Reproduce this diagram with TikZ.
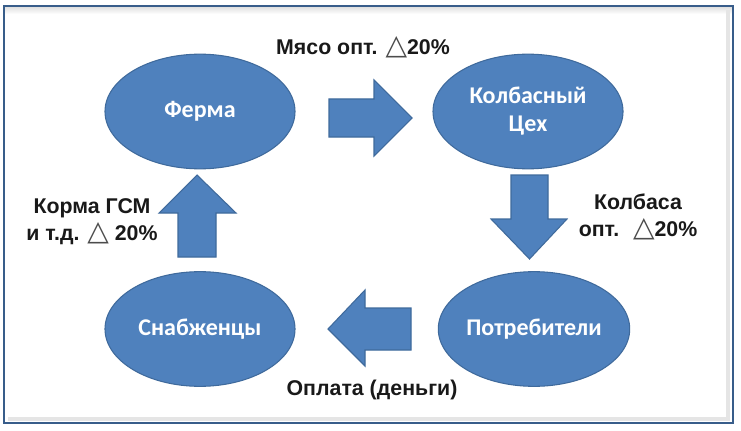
\documentclass[tikz,border=0pt]{standalone}
\usepackage{fontspec}
\setmainfont{Liberation Sans}
\newfontfamily\carl{Carlito}
\newfontfamily\dvs{DejaVu Sans}
\usetikzlibrary{shapes.geometric}
\definecolor{fillblue}{HTML}{4F81BD}
\definecolor{edgeblue}{HTML}{3F6A9C}
\definecolor{frameblue}{HTML}{385D8A}
\newcommand{\tri}{{\dvs\mdseries\fontsize{21}{20}\selectfont\color{black!70}△}}
\begin{document}
\begin{tikzpicture}[x=0.75pt,y=-0.75pt,
  state/.style={ellipse,draw=edgeblue,line width=0.8pt,fill=fillblue,
    minimum width=142.5pt,minimum height=86pt,inner sep=0pt,text=white,
    font=\carl\bfseries\fontsize{18}{21}\selectfont,align=center},
  lbl/.style={font=\bfseries\fontsize{16}{20}\selectfont,align=center,text=black!90},
  blk/.style={fill=fillblue,draw=edgeblue,line width=0.8pt,line join=miter}]
\useasboundingbox (0,0) rectangle (741,431);
\fill[white] (0,0) rectangle (741,431);
% frame with inner shadow
\shade[top color=black!12,bottom color=white] (5,7) rectangle (732,14);
\draw[black!10,line width=3pt] (728,10) -- (728,419) -- (8,419);
\draw[frameblue,line width=1.6pt] (4,6) rectangle (733,423);

% states
\node[state] (ferma) at (200,111.5) {Ферма};
\node[state] (ceh) at (528,111.5) {Колбасный\\Цех};
\node[state] (snab) at (200,329) {Снабженцы};
\node[state] (potr) at (534,329) {Потребители};

% block arrows
\draw[blk] (329,99) -- (374,99) -- (374,80) -- (412,118) -- (374,156) -- (374,137) -- (329,137) -- cycle;
\draw[blk] (511,175) -- (548,175) -- (548,219) -- (567,219) -- (529.5,259) -- (491,219) -- (511,219) -- cycle;
\draw[blk] (411,308) -- (365,308) -- (365,290) -- (328,329) -- (365,366) -- (365,350) -- (411,350) -- cycle;
\draw[blk] (178,257) -- (178,213) -- (159,213) -- (197,175) -- (236,213) -- (216,213) -- (216,257) -- cycle;

% labels
\node[lbl] (l1) at (363,47) {Мясо опт. \tri20\%};
\node[lbl] (l2) at (638,217) {Колбаса\\опт.~ \tri20\%};
\node[lbl] (l3) at (92,222) {Корма ГСМ\\и т.д. \tri~20\%};
\node[lbl] (l4) at (372,390) {Оплата (деньги)};
\end{tikzpicture}
\end{document}
